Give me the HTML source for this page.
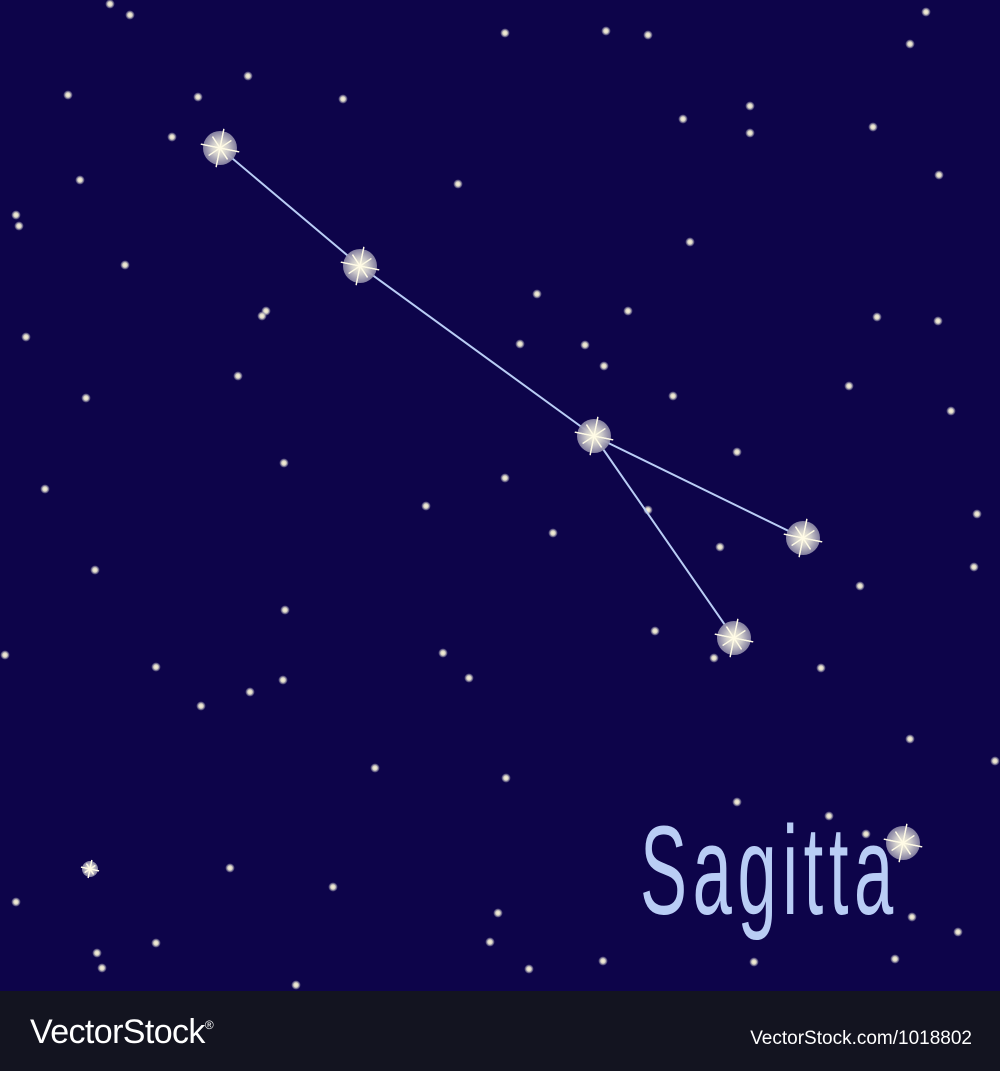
<!DOCTYPE html>
<html><head><meta charset="utf-8"><style>
html,body{margin:0;padding:0;background:#0d044a;}
svg{display:block}
</style></head><body>
<svg width="1000" height="1071" viewBox="0 0 1000 1071">
<defs>
<radialGradient id="glow"><stop offset="0" stop-color="#fffbe0"/><stop offset="0.5" stop-color="#c9c6c8"/><stop offset="1" stop-color="#8e8aa8" stop-opacity="0.9"/></radialGradient>
<radialGradient id="sg"><stop offset="0" stop-color="#fff8d8"/><stop offset="0.5" stop-color="#d8d4c8"/><stop offset="1" stop-color="#8e8aa8" stop-opacity="0.3"/></radialGradient>
</defs>
<rect x="0" y="0" width="1000" height="991" fill="#0d044a"/>
<g id="small"></g>
<g stroke="#b9cdf5" stroke-width="2">
<line x1="220" y1="148" x2="360" y2="266"/>
<line x1="360" y1="266" x2="594" y2="436"/>
<line x1="594" y1="436" x2="803" y2="538"/>
<line x1="594" y1="436" x2="734" y2="638"/>
</g>
<g id="big"></g>
<text x="640" y="914" font-family="'Liberation Sans',sans-serif" font-size="126" fill="#b9cdf5" letter-spacing="10" transform="translate(640 0) scale(0.56 1) translate(-640 0)">Sagitta</text>
<rect x="0" y="991" width="1000" height="80" fill="#131420"/>
<text x="30" y="1043" font-family="'Liberation Sans',sans-serif" font-size="34" fill="#fff" letter-spacing="-0.6">VectorStock<tspan font-size="12" dy="-14">®</tspan></text>
<text x="972" y="1044" text-anchor="end" font-family="'Liberation Sans',sans-serif" font-size="19" fill="#fff">VectorStock.com/1018802</text>
</svg>
<script>
const small=[[110,4],[130,15],[505,33],[606,31],[648,35],[926,12],[910,44],[248,76],[68,95],[198,97],[343,99],[750,106],[683,119],[750,133],[873,127],[172,137],[80,180],[458,184],[939,175],[16,215],[19,226],[690,242],[125,265],[537,294],[266,311],[262,316],[628,311],[877,317],[938,321],[26,337],[520,344],[585,345],[604,366],[238,376],[849,386],[86,398],[673,396],[951,411],[737,452],[284,463],[45,489],[505,478],[426,506],[648,510],[977,514],[553,533],[720,547],[95,570],[974,567],[860,586],[285,610],[655,631],[714,658],[5,655],[156,667],[443,653],[821,668],[250,692],[283,680],[469,678],[201,706],[910,739],[995,761],[375,768],[506,778],[737,802],[829,816],[866,834],[230,868],[16,902],[333,887],[498,913],[912,917],[958,932],[156,943],[490,942],[97,953],[102,968],[603,961],[754,962],[895,959],[529,969],[296,985]];
const bigStars=[[220,148,17],[360,266,17],[594,436,17],[803,538,17],[734,638,17],[903,843,17],[90,869,8]];
const NS='http://www.w3.org/2000/svg';
const gs=document.getElementById('small');
for(const [x,y] of small){
 const c=document.createElementNS(NS,'circle');
 c.setAttribute('cx',x);c.setAttribute('cy',y);c.setAttribute('r',4.5);c.setAttribute('fill','url(#sg)');
 
 
 gs.appendChild(c);
}
const gb=document.getElementById('big');
for(const [x,y,r] of bigStars){
 const g=document.createElementNS(NS,'g');
 
 
 const c=document.createElementNS(NS,'circle');
 c.setAttribute('cx',x);c.setAttribute('cy',y);c.setAttribute('r',r);c.setAttribute('fill','url(#glow)');
 g.appendChild(c);
 for(let i=0;i<8;i++){
  const a=i*Math.PI/4+0.2, L=(i%2?r*0.8:r*1.15);
  const l=document.createElementNS(NS,'line');
  l.setAttribute('x1',x-Math.cos(a)*L);l.setAttribute('y1',y-Math.sin(a)*L);
  l.setAttribute('x2',x+Math.cos(a)*L);l.setAttribute('y2',y+Math.sin(a)*L);
  l.setAttribute('stroke','#fffbe6');l.setAttribute('stroke-width',1.3);
  g.appendChild(l);
 }
 gb.appendChild(g);
}
</script>
</body></html>
